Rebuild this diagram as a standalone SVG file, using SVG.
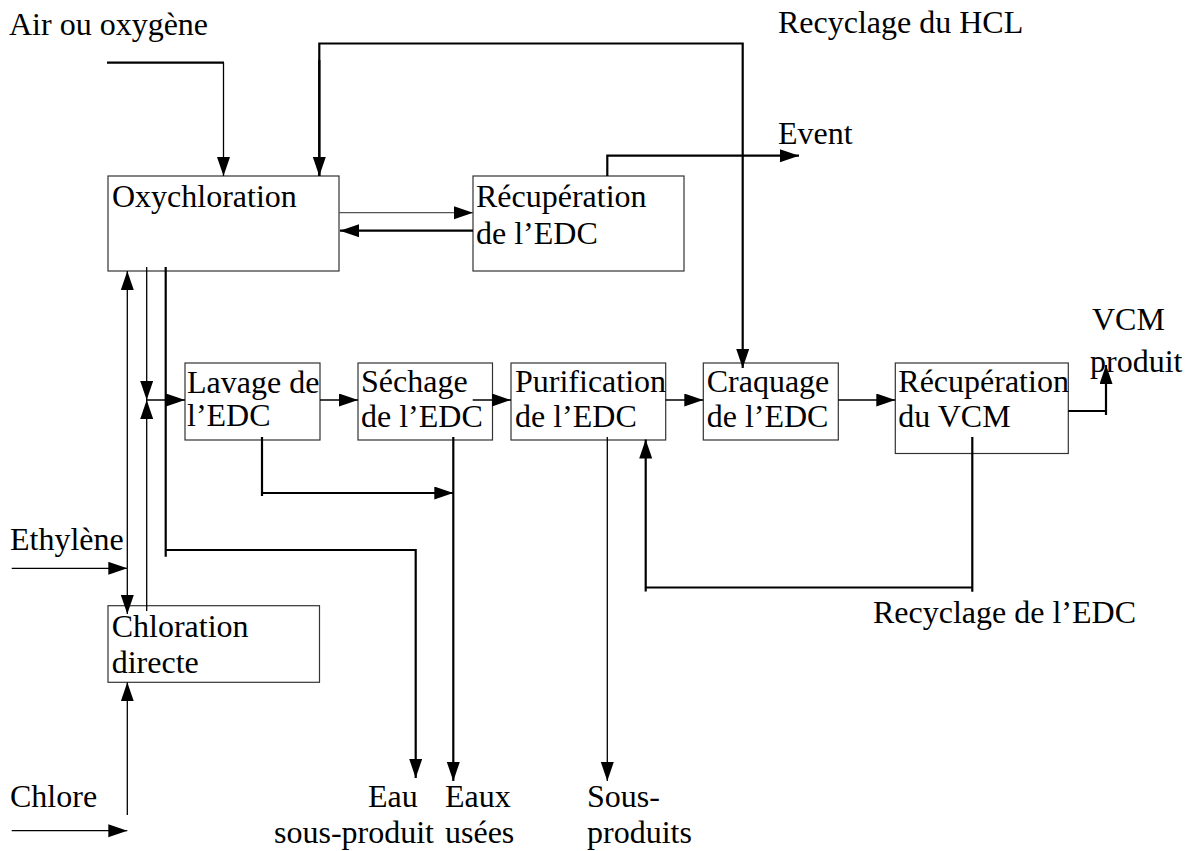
<svg xmlns="http://www.w3.org/2000/svg" width="1185" height="851" viewBox="0 0 1185 851">
<style>
text{font-size:32px;fill:#000}
.box{fill:#fff;stroke:#333;stroke-width:1.2}
.c{fill:none;stroke:#000;stroke-width:1.3}
.t{fill:none;stroke:#000;stroke-width:2.2}
.g{fill:none;stroke:#555;stroke-width:1.2}
</style>
<defs>
<marker id="ah" markerUnits="userSpaceOnUse" markerWidth="20" markerHeight="14" refX="19" refY="6.5" orient="auto">
<path d="M0,0 L19,6.5 L0,13 z" fill="#000"/>
</marker>
</defs>
<rect width="1185" height="851" fill="#fff"/>

<g id="oxychloration">
<rect class="box" x="108" y="176" width="231" height="95"/>
<text x="112" y="207" font-family="Liberation Serif, serif">Oxychloration</text>
</g>
<g id="recuperation-edc">
<rect class="box" x="473" y="176" width="211" height="95"/>
<text x="476" y="207" font-family="Liberation Serif, serif">Récupération</text>
<text x="476" y="244" font-family="Liberation Serif, serif">de l’EDC</text>
</g>
<g id="lavage">
<rect class="box" x="185" y="363" width="135" height="77"/>
<text x="187" y="393" font-family="Liberation Serif, serif">Lavage de</text>
<text x="187" y="426" font-family="Liberation Serif, serif">l’EDC</text>
</g>
<g id="sechage">
<rect class="box" x="358" y="363" width="134.5" height="77"/>
<text x="361" y="392" font-family="Liberation Serif, serif">Séchage</text>
<text x="361" y="427" font-family="Liberation Serif, serif">de l’EDC</text>
</g>
<g id="purification">
<rect class="box" x="511" y="363" width="154.7" height="77"/>
<text x="515" y="392" font-family="Liberation Serif, serif">Purification</text>
<text x="515" y="427" font-family="Liberation Serif, serif">de l’EDC</text>
</g>
<g id="craquage">
<rect class="box" x="703.3" y="363" width="135" height="77"/>
<text x="706.7" y="392" font-family="Liberation Serif, serif">Craquage</text>
<text x="706.7" y="427" font-family="Liberation Serif, serif">de l’EDC</text>
</g>
<g id="recuperation-vcm">
<rect class="box" x="895.3" y="363" width="173" height="90.5"/>
<text x="898.3" y="392" font-family="Liberation Serif, serif">Récupération</text>
<text x="898.3" y="427" font-family="Liberation Serif, serif">du VCM</text>
</g>
<g id="chloration">
<rect class="box" x="108" y="605.7" width="211.5" height="76.6"/>
<text x="111.7" y="637" font-family="Liberation Serif, serif">Chloration</text>
<text x="111.7" y="673" font-family="Liberation Serif, serif">directe</text>
</g>

<g id="labels">
<text x="9" y="35" font-family="Liberation Serif, serif">Air ou oxygène</text>
<text x="778" y="33" font-family="Liberation Serif, serif">Recyclage du HCL</text>
<text x="778" y="144" font-family="Liberation Serif, serif">Event</text>
<text x="1092" y="330" font-family="Liberation Serif, serif">VCM</text>
<text x="1090" y="372" font-family="Liberation Serif, serif">produit</text>
<text x="10" y="550" font-family="Liberation Serif, serif">Ethylène</text>
<text x="10" y="807" font-family="Liberation Serif, serif">Chlore</text>
<text x="368" y="807" font-family="Liberation Serif, serif">Eau</text>
<text x="274" y="843" font-family="Liberation Serif, serif">sous-produit</text>
<text x="445" y="807" font-family="Liberation Serif, serif">Eaux</text>
<text x="445" y="843" font-family="Liberation Serif, serif">usées</text>
<text x="587" y="807" font-family="Liberation Serif, serif">Sous-</text>
<text x="587" y="843" font-family="Liberation Serif, serif">produits</text>
<text x="873" y="623" font-family="Liberation Serif, serif">Recyclage de l’EDC</text>
</g>

<g id="connectors">
<path class="t" d="M107,62.7 H224"/>
<path class="c" d="M223.5,62.7 V176" marker-end="url(#ah)"/>
<path class="t" d="M319.3,176 V43.5 H742.7 V368" marker-end="url(#ah)"/>
<path class="t" d="M319.3,60 V176" marker-end="url(#ah)"/>
<path class="t" d="M607.3,176 V155.7 H799" marker-end="url(#ah)"/>
<path class="g" d="M339,212.7 H473" marker-end="url(#ah)"/>
<path class="t" d="M473,230.7 H340" marker-end="url(#ah)"/>
<path class="c" d="M11.7,568.3 H127.3" marker-end="url(#ah)"/>
<path class="c" d="M127.3,568.3 V271" marker-end="url(#ah)"/>
<path class="c" d="M127.3,568.3 V614" marker-end="url(#ah)"/>
<path class="c" d="M146.7,267 V400" marker-end="url(#ah)"/>
<path class="c" d="M146.7,611 V400" marker-end="url(#ah)"/>
<path class="c" d="M146.7,400 H185" marker-end="url(#ah)"/>
<path class="t" d="M165.7,267 V556.7 M165.7,550 H415.7 V778" marker-end="url(#ah)"/>
<path class="c" d="M320,400 H358" marker-end="url(#ah)"/>
<path class="t" d="M262,437 V496 M262,493 H453.3" marker-end="url(#ah)"/>
<path class="t" d="M453.3,437 V781" marker-end="url(#ah)"/>
<path class="c" d="M472.7,400 H511" marker-end="url(#ah)"/>
<path class="c" d="M607.3,437 V781" marker-end="url(#ah)"/>
<path class="c" d="M665.7,400 H703.3" marker-end="url(#ah)"/>
<path class="c" d="M838.3,400 H895.3" marker-end="url(#ah)"/>
<path class="t" d="M1068.3,411 H1106 M1106,415 V365" marker-end="url(#ah)"/>
<path class="t" d="M972.3,437 V591.7 M972.3,587.5 H645.7 M645.7,591.5 V439.5" marker-end="url(#ah)"/>
<path class="c" d="M127.3,815 V682.3" marker-end="url(#ah)"/>
<path class="c" d="M11.7,830.7 H127.3" marker-end="url(#ah)"/>
</g>
</svg>
